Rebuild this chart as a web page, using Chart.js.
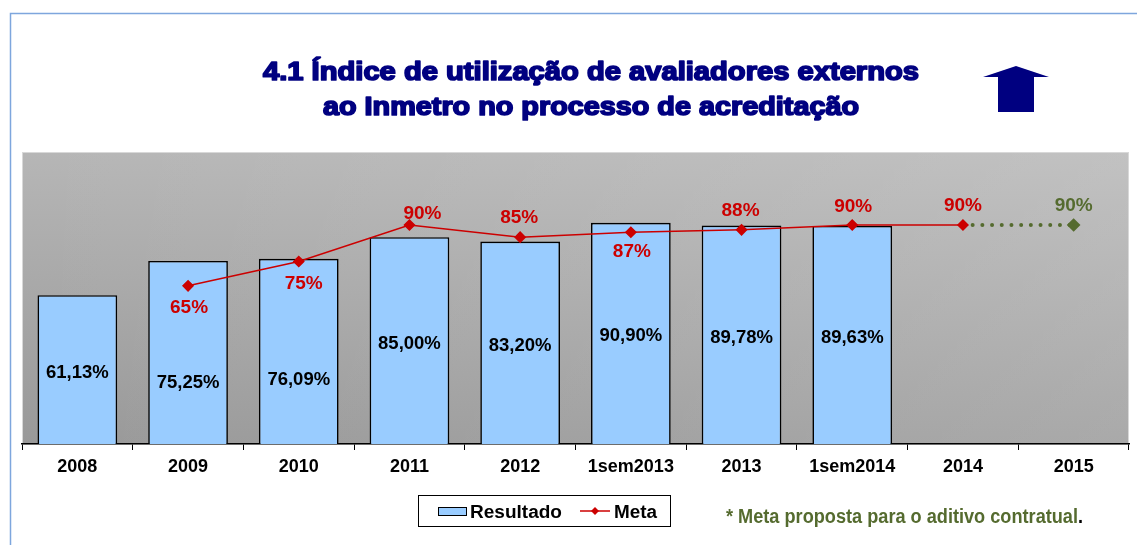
<!DOCTYPE html>
<html><head><meta charset="utf-8">
<script src="https://cdn.jsdelivr.net/npm/chart.js@4.4.1/dist/chart.umd.min.js"></script>
<style>html,body{margin:0;padding:0;background:#fff;overflow:hidden}#wrap{width:1137px;height:545px;position:relative}</style>
</head><body><div id="wrap"><canvas id="c" width="1137" height="545"></canvas></div>
<script>
// ---- data ----
const categories = ['2008','2009','2010','2011','2012','1sem2013','2013','1sem2014','2014','2015'];
const resultado = [61.13, 75.25, 76.09, 85.00, 83.20, 90.90, 89.78, 89.63, null, null];
const meta = [null, 65, 75, 90, 85, 87, 88, 90, 90, null];
const metaProposta = [null, null, null, null, null, null, null, null, 90, 90];
const titleLines = ['4.1 Índice de utilização de avaliadores externos', 'ao Inmetro no processo de acreditação'];
const legendLabels = ['Resultado', 'Meta'];
const footnoteText = '* Meta proposta para o aditivo contratual';

// ---- styles ----
const NAVY = '#000080', RED = '#CC0000', GREEN = '#556B2F', BARFILL = '#99CCFF';
const FONT = "'Liberation Sans', Arial, sans-serif";
// label offsets (pixels) for readability, as placed in the original
const barLabelDy = [3, 30, 28, 3, 3, 3, 3, 3, 0, 0];
const metaLabelDx = [0, 1, 5, 13, -1, 1, -1, 1, 0, 0];
const metaLabelDy = [0, 22, 22, -11, -19, 19, -19, -18, -19, -19];

function fitText(ctx, text, x, y, targetW, align, stroke) {
  const w = ctx.measureText(text).width;
  const s = targetW / w;
  ctx.save();
  ctx.translate(x, y);
  ctx.scale(s, 1);
  ctx.textAlign = align;
  if (stroke) { ctx.lineWidth = stroke; ctx.lineJoin = 'round'; ctx.strokeText(text, 0, 0); }
  ctx.fillText(text, 0, 0);
  ctx.restore();
  return w * s;
}

const decorPlugin = {
  id: 'decor',
  beforeDraw(chart) {
    const ctx = chart.ctx, a = chart.chartArea;
    ctx.save();
    ctx.fillStyle = '#fff';
    ctx.fillRect(0, 0, chart.width, chart.height);
    // outer frame
    ctx.strokeStyle = '#7EA6DD';
    ctx.lineWidth = 1.5;
    ctx.beginPath();
    ctx.moveTo(10.5, chart.height); ctx.lineTo(10.5, 13.5); ctx.lineTo(chart.width, 13.5);
    ctx.stroke();
    // plot background gradient
    const g = ctx.createLinearGradient(0, a.top, 0, a.bottom);
    g.addColorStop(0, '#B6B6B6');
    g.addColorStop(1, '#999999');
    ctx.fillStyle = g;
    ctx.fillRect(a.left, a.top, a.right - a.left, a.bottom - a.top);
    const h = ctx.createLinearGradient(a.left, 0, a.right, 0);
    h.addColorStop(0, 'rgba(255,255,255,0)');
    h.addColorStop(1, 'rgba(255,255,255,0.16)');
    ctx.fillStyle = h;
    ctx.fillRect(a.left, a.top, a.right - a.left, a.bottom - a.top);
    ctx.strokeStyle = '#D8D8D8';
    ctx.lineWidth = 1;
    ctx.strokeRect(a.left + 0.5, a.top + 0.5, a.right - a.left - 1, a.bottom - a.top);

    // title
    ctx.fillStyle = NAVY;
    ctx.strokeStyle = NAVY;
    ctx.font = 'bold 26px ' + FONT;
    ctx.textBaseline = 'alphabetic';
    fitText(ctx, titleLines[0], 591, 80, 656, 'center', 1.7);
    fitText(ctx, titleLines[1], 591, 115, 536, 'center', 1.7);

    // arrow
    ctx.beginPath();
    ctx.moveTo(1016, 66);
    ctx.lineTo(1049, 77);
    ctx.lineTo(1034, 77);
    ctx.lineTo(1034, 112);
    ctx.lineTo(998, 112);
    ctx.lineTo(998, 77);
    ctx.lineTo(983, 77);
    ctx.closePath();
    ctx.fillStyle = NAVY;
    ctx.fill();
    ctx.restore();
  },
  afterDatasetsDraw(chart) {
    const ctx = chart.ctx;
    const xs = chart.scales.x, ys = chart.scales.y;
    ctx.save();
    ctx.textAlign = 'center';
    ctx.textBaseline = 'middle';
    // bar labels
    ctx.font = 'bold 18.5px ' + FONT;
    ctx.fillStyle = '#000';
    resultado.forEach((v, i) => {
      if (v == null) return;
      const x = xs.getPixelForValue(i);
      const y = ys.getPixelForValue(v / 2) + barLabelDy[i];
      ctx.fillText(v.toFixed(2).replace('.', ',') + '%', x, y);
    });
    // meta labels
    ctx.font = 'bold 19px ' + FONT;
    meta.forEach((v, i) => {
      if (v == null) return;
      ctx.fillStyle = RED;
      ctx.fillText(v + '%', xs.getPixelForValue(i) + metaLabelDx[i], ys.getPixelForValue(v) + metaLabelDy[i]);
    });
    metaProposta.forEach((v, i) => {
      if (v == null || meta[i] != null) return;
      ctx.fillStyle = GREEN;
      ctx.fillText(v + '%', xs.getPixelForValue(i) + metaLabelDx[i], ys.getPixelForValue(v) + metaLabelDy[i]);
    });
    ctx.restore();
  },
  afterDraw(chart) {
    const ctx = chart.ctx;
    ctx.save();
    // legend box
    ctx.fillStyle = '#fff';
    ctx.fillRect(418, 495, 252, 31);
    ctx.strokeStyle = '#000';
    ctx.lineWidth = 1;
    ctx.strokeRect(418.5, 495.5, 252, 31);
    // Resultado swatch
    ctx.fillStyle = BARFILL;
    ctx.fillRect(438, 507, 28, 8);
    ctx.strokeRect(438.5, 507.5, 28, 8);
    ctx.fillStyle = '#000';
    ctx.font = 'bold 18px ' + FONT;
    ctx.textBaseline = 'alphabetic';
    fitText(ctx, legendLabels[0], 470, 518, 92, 'left');
    // Meta swatch
    ctx.strokeStyle = RED;
    ctx.lineWidth = 1.5;
    ctx.beginPath(); ctx.moveTo(580, 511); ctx.lineTo(610, 511); ctx.stroke();
    ctx.fillStyle = RED;
    ctx.beginPath(); ctx.moveTo(595, 507); ctx.lineTo(599, 511); ctx.lineTo(595, 515); ctx.lineTo(591, 511); ctx.closePath(); ctx.fill();
    ctx.fillStyle = '#000';
    fitText(ctx, legendLabels[1], 614, 518, 43, 'left');
    // footnote (narrow bold)
    ctx.font = 'bold 20px ' + FONT;
    ctx.fillStyle = GREEN;
    const w = fitText(ctx, footnoteText, 726, 523, 352, 'left');
    ctx.fillStyle = '#000';
    fitText(ctx, '.', 726 + w, 523, 5, 'left');
    ctx.restore();
  }
};

new Chart(document.getElementById('c'), {
  data: {
    labels: categories,
    datasets: [
      {
        type: 'line', label: legendLabels[1], data: meta, order: 0,
        borderColor: RED, backgroundColor: RED, borderWidth: 1.5,
        pointStyle: 'rectRot', pointRadius: 5, pointBackgroundColor: RED, pointBorderColor: RED,
        tension: 0, spanGaps: false
      },
      {
        type: 'line', label: 'Meta proposta', data: metaProposta, order: 1,
        borderColor: GREEN, borderWidth: 4, borderDash: [0, 9.7], borderCapStyle: 'round',
        pointStyle: 'rectRot', pointRadius: [0,0,0,0,0,0,0,0,0,4],
        pointBackgroundColor: GREEN, pointBorderColor: GREEN, tension: 0
      },
      {
        type: 'bar', label: legendLabels[0], data: resultado, order: 2,
        backgroundColor: BARFILL, borderColor: '#000', borderWidth: 1.6,
        categoryPercentage: 1, barPercentage: 0.72
      }
    ]
  },
  options: {
    responsive: false,
    animation: false,
    devicePixelRatio: 1,
    layout: { padding: { top: 152, left: 22, right: 2, bottom: 61 } },
    plugins: { legend: { display: false }, title: { display: false }, tooltip: { enabled: false } },
    scales: {
      x: {
        offset: true,
        grid: { display: true, drawOnChartArea: false, drawTicks: true, tickLength: 6, color: '#000', lineWidth: 1, offset: true },
        border: { display: true, color: '#000', width: 1.5 },
        ticks: { color: '#000', font: { family: FONT, size: 18, weight: 'bold' }, padding: 6, maxRotation: 0, autoSkip: false },
        afterFit(scale) { scale.height = 40; }
      },
      y: { display: false, min: 0, max: 120 }
    }
  },
  plugins: [decorPlugin]
});
</script>
</body></html>
